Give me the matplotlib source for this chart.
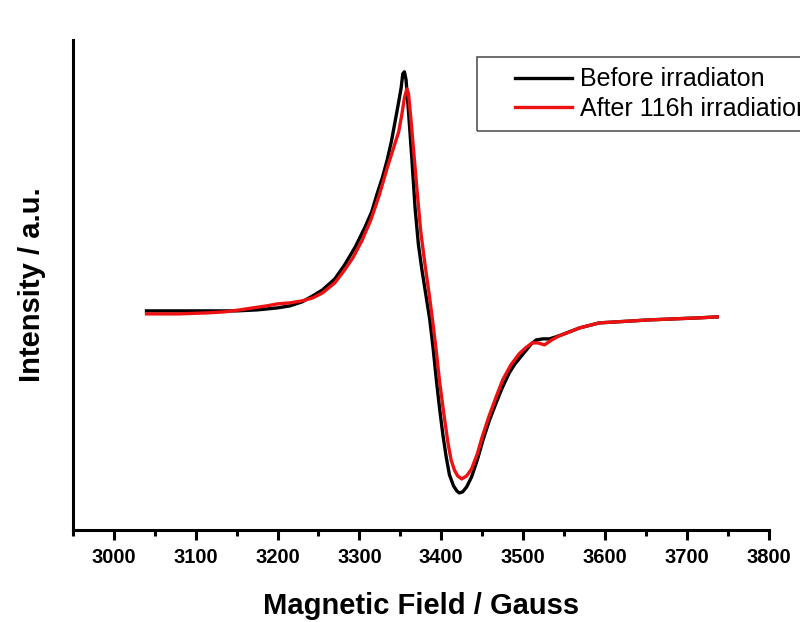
import matplotlib.pyplot as plt
from matplotlib.patches import Rectangle
from matplotlib.ticker import MultipleLocator, NullLocator

plt.rcParams['font.family'] = ['Liberation Sans', 'DejaVu Sans']

# EPR spectra, field in Gauss, intensity in arbitrary units
field_before = [3040, 3080, 3120, 3150, 3175, 3200, 3215, 3230, 3243, 3255,
                3270, 3282, 3295, 3307, 3315, 3322, 3328, 3334, 3339, 3344,
                3348, 3351, 3353, 3355, 3357, 3360, 3364, 3368, 3372, 3376,
                3381, 3386, 3390, 3394, 3398, 3402, 3406, 3410, 3415, 3419,
                3422, 3426, 3431, 3437, 3444, 3451, 3459, 3467, 3475, 3483,
                3490, 3497, 3504, 3510, 3516, 3524, 3532, 3540, 3550, 3569,
                3593, 3614, 3654, 3714, 3737]
int_before = [219, 219, 219, 219, 220, 222, 224, 228, 234, 240,
              251, 265, 283, 303, 318, 337, 352, 370, 388, 410,
              428, 442, 456, 458, 450, 418, 372, 322, 286, 262,
              236, 210, 182, 150, 121, 95, 73, 55, 44, 39,
              37, 38, 43, 53, 70, 90, 110, 127, 143, 157,
              166, 173, 180, 186, 190, 191, 191, 193, 196, 202,
              207, 208, 210, 212, 213]

field_after = [3040, 3080, 3114, 3135, 3154, 3170, 3187, 3200, 3215, 3230,
               3243, 3255, 3270, 3282, 3292, 3303, 3314, 3324, 3334, 3341,
               3348, 3352, 3355, 3358, 3360, 3363, 3367, 3371, 3375, 3380,
               3385, 3389, 3394, 3398, 3403, 3408, 3412, 3416, 3420, 3425,
               3431, 3437, 3444, 3450, 3458, 3467, 3475, 3485, 3495, 3503,
               3511, 3518, 3526, 3535, 3544, 3569, 3593, 3654, 3714, 3737]
int_after = [216, 216, 217, 218, 220, 222, 224, 226, 227, 229,
             232, 237, 247, 260, 272, 289, 310, 334, 362, 380,
             398, 416, 432, 441, 436, 410, 372, 334, 298, 266,
             237, 212, 178, 148, 117, 88, 70, 60, 54, 51,
             54, 61, 76, 93, 113, 133, 150, 165, 176, 182,
             187, 187, 185, 190, 194, 202, 207, 210, 212, 213]

fig = plt.figure(figsize=(8, 6.22), dpi=100)
ax = fig.add_axes([0.091, 0.148, 0.870, 0.788])

ax.plot(field_before, int_before, color='black', lw=2.4, label='Before irradiaton')
ax.plot(field_after, int_after, color='#ee1111', lw=2.4, label='After 116h irradiation')

ax.set_xlim(2950, 3800)
ax.set_ylim(0, 490)
ax.xaxis.set_major_locator(MultipleLocator(100))
ax.xaxis.set_minor_locator(MultipleLocator(50))
ax.yaxis.set_major_locator(NullLocator())

for s in ['top', 'right']:
    ax.spines[s].set_visible(False)
for s in ['left', 'bottom']:
    ax.spines[s].set_linewidth(2.2)

ax.tick_params(axis='x', which='major', length=7, width=2.2, direction='out', labelsize=14.5, pad=6)
ax.tick_params(axis='x', which='minor', length=4, width=2.2, direction='out')
for lab in ax.get_xticklabels():
    lab.set_fontweight('bold')

ax.set_xlabel('Magnetic Field / Gauss', fontsize=21, fontweight='bold', labelpad=18)
ax.set_ylabel('Intensity / a.u.', fontsize=21, fontweight='bold', labelpad=19)

# legend frame runs off the right edge like the original
fig.patches.append(Rectangle((477 / 800, 1 - 131 / 622), 340 / 800, 74 / 622,
                             transform=fig.transFigure, fill=False,
                             edgecolor='#555555', lw=1.2))
ax.legend(loc='upper left', bbox_to_anchor=(497 / 800, 1 - 50 / 622),
          bbox_transform=fig.transFigure, frameon=False, fontsize=18,
          handlelength=2.3, handletextpad=0.3, labelspacing=0.2, borderpad=0.2)

fig.savefig('out.png', dpi=100)
